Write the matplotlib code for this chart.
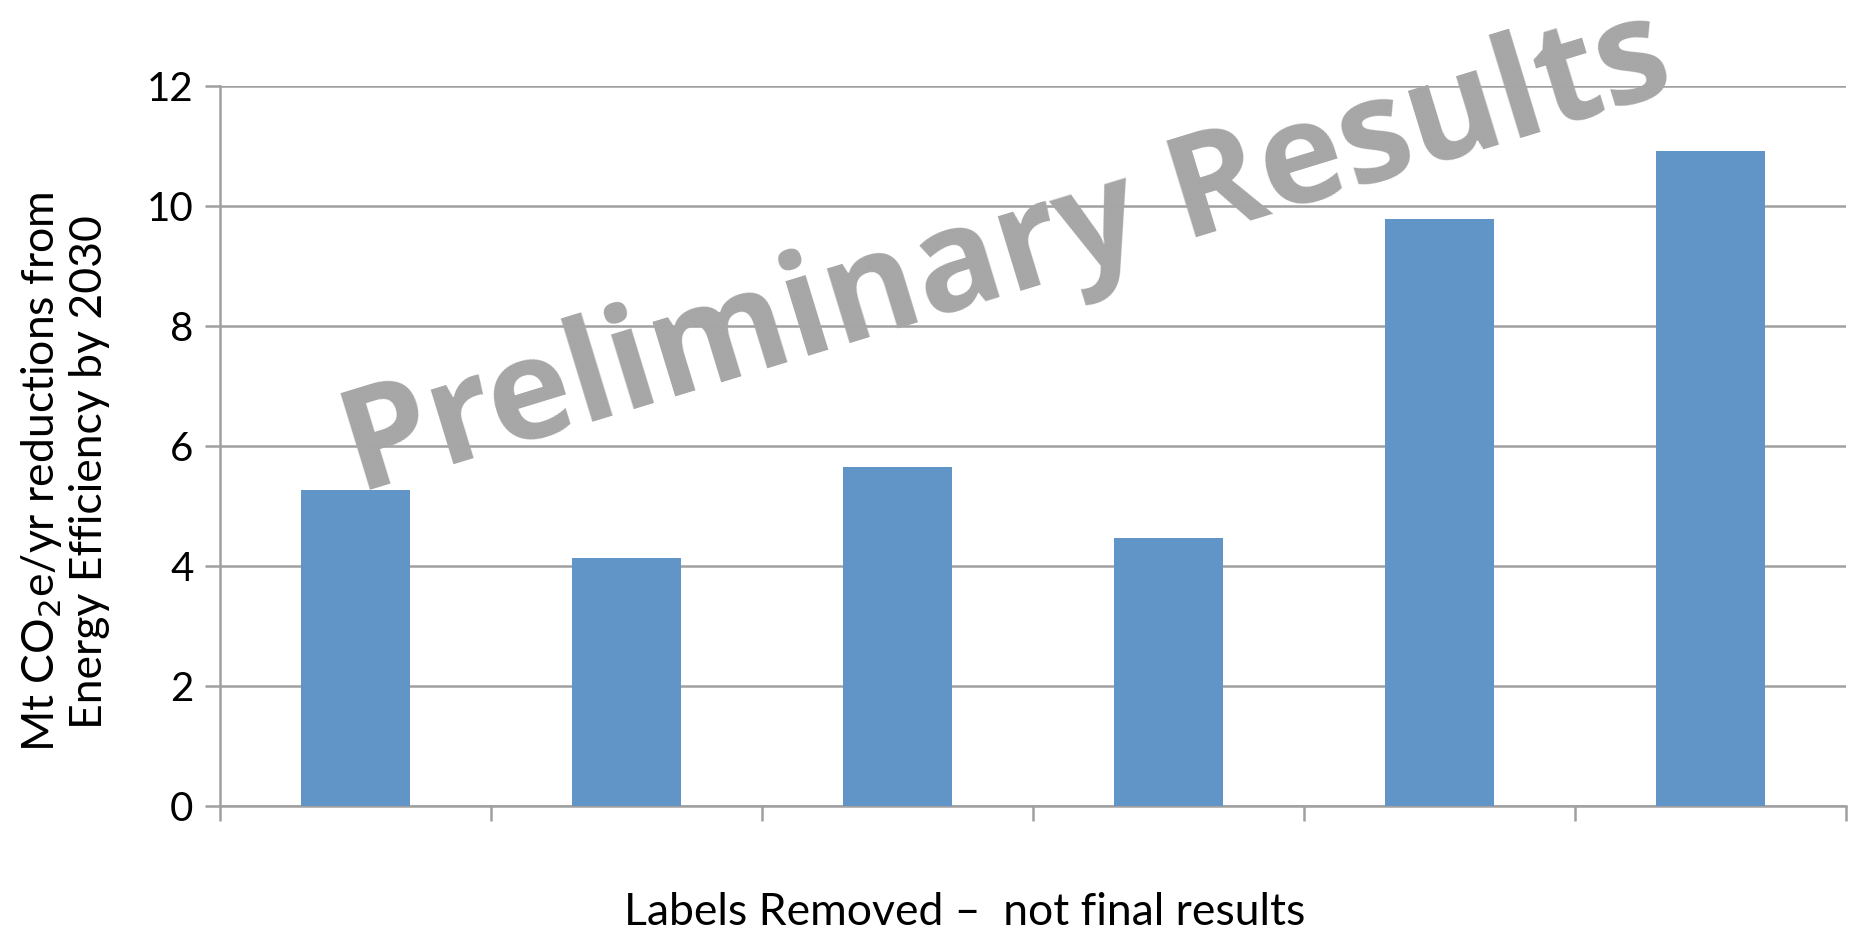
import matplotlib.pyplot as plt
import numpy as np

plt.rcParams['font.family'] = ['Lato', 'DejaVu Sans']

categories = ["", "", "", "", "", ""]
values = [5.27, 4.13, 5.65, 4.46, 9.78, 10.91]
y_ticks = [0, 2, 4, 6, 8, 10, 12]

GRID = "#A0A0A0"
BAR = "#6195C8"

fig = plt.figure(figsize=(18.55, 9.32), dpi=100)
ax = fig.add_axes([0.1186, 0.1352, 0.8765, 0.7725])

x = np.arange(len(values))
ax.bar(x, values, width=0.4, color=BAR, zorder=3)

ax.set_xlim(-0.5, len(values) - 0.5)
ax.set_ylim(0, 12)
ax.set_yticks(y_ticks)
ax.set_yticklabels([str(t) for t in y_ticks], fontsize=29)
ax.set_xticks(np.arange(len(values) + 1) - 0.5)
ax.set_xticklabels([])
ax.tick_params(axis='x', length=11, width=1.8, color=GRID, direction='out')
ax.tick_params(axis='y', length=11, width=1.8, color=GRID, direction='out', pad=8)

ax.grid(axis='y', color=GRID, linewidth=1.8, zorder=0)
for side in ['top', 'right']:
    ax.spines[side].set_visible(False)
for side in ['left', 'bottom']:
    ax.spines[side].set_color(GRID)
    ax.spines[side].set_linewidth(1.8)

fig.text(0.035, 0.494, "Mt CO$_2$e/yr reductions from\nEnergy Efficiency by 2030",
         rotation=90, ha='center', va='center', fontsize=32, linespacing=1.15)
fig.text(0.52, 0.008, "Labels Removed \u2013  not final results",
         ha='center', va='baseline', fontsize=32)

# watermark
fig.text(0.543, 0.725, "Preliminary Results", rotation=17,
         ha='center', va='center', fontsize=102, fontweight='bold',
         family=['Open Sans', 'DejaVu Sans'], color="#A6A6A6", zorder=10)

fig.savefig("out.png", dpi=100)
